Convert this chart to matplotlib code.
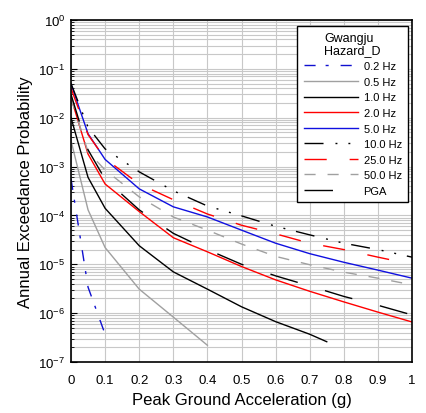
import matplotlib
matplotlib.use('Agg')
import matplotlib.pyplot as plt
from matplotlib.ticker import LogLocator, FixedLocator, NullFormatter

plt.rcParams['font.family'] = ['Liberation Sans', 'DejaVu Sans']
plt.rcParams['lines.scale_dashes'] = False

# peak ground acceleration (g)
pga = [0, 0.05, 0.1, 0.2, 0.3, 0.4, 0.5, 0.6, 0.7, 0.8, 0.9, 1.0]

# annual exceedance probability per spectral period
hz02 = [5.6e-4, 3.4e-6, 3.7e-7]
hz05 = [3.4e-3, 1.3e-4, 2.2e-5, 3.1e-6, 8.3e-7, 2.2e-7]
hz10 = [1.0e-2, 6.0e-4, 1.4e-4, 2.4e-5, 7.0e-6, 3.1e-6, 1.35e-6, 6.7e-7, 3.7e-7, 2.6e-7]
x_hz10 = [0, 0.05, 0.1, 0.2, 0.3, 0.4, 0.5, 0.6, 0.7, 0.75]
hz20 = [2.6e-2, 1.8e-3, 4.4e-4, 1.2e-4, 3.5e-5, 1.8e-5, 9.0e-6, 4.8e-6, 2.8e-6, 1.7e-6, 1.05e-6, 6.6e-7]
hz50 = [4.9e-2, 4.7e-3, 1.4e-3, 3.5e-4, 1.5e-4, 9.3e-5, 5.0e-5, 2.7e-5, 1.65e-5, 1.1e-5, 7.6e-6, 5.2e-6]
hz100 = [5.0e-2, 6.4e-3, 2.3e-3, 7.8e-4, 3.2e-4, 1.56e-4, 9.8e-5, 6.0e-5, 4.0e-5, 2.7e-5, 2.0e-5, 1.4e-5]
hz250 = [4.0e-2, 4.5e-3, 1.45e-3, 4.4e-4, 2.1e-4, 1.07e-4, 6.3e-5, 4.2e-5, 2.7e-5, 2.0e-5, 1.4e-5, 1.0e-5]
hz500 = [2.5e-2, 2.0e-3, 8.5e-4, 2.4e-4, 9.3e-5, 5.0e-5, 2.6e-5, 1.45e-5, 9.8e-6, 6.9e-6, 5.2e-6, 3.8e-6]
hzpga = [3.0e-2, 2.2e-3, 5.5e-4, 1.3e-4, 4.3e-5, 2.0e-5, 1.0e-5, 5.8e-6, 3.6e-6, 2.2e-6, 1.45e-6, 9.2e-7]

fg = plt.figure(figsize=(4.26, 4.14), dpi=100)
ax = fg.add_axes([71/426, 1-363/414, 341/426, 342/414])

lw = 1.0
ax.plot(pga[:3], hz02, color='#1010d0', lw=lw, dashes=(8, 7.2, 2.2, 8.6), label='0.2 Hz')
ax.plot(pga[:6], hz05, color='#a0a0a0', lw=lw, label='0.5 Hz')
ax.plot(x_hz10, hz10, color='black', lw=lw, label='1.0 Hz')
ax.plot(pga, hz20, color='red', lw=lw, label='2.0 Hz')
ax.plot(pga, hz50, color='#1010e0', lw=lw, label='5.0 Hz')
ax.plot(pga, hz100, color='black', lw=lw, dashes=(13.7, 8.6, 1.4, 7.9, 1.4, 7.9), label='10.0 Hz')
ax.plot(pga, hz250, color='red', lw=lw, dashes=(16, 16.5), label='25.0 Hz')
ax.plot(pga, hz500, color='#a0a0a0', lw=lw, dashes=(8, 8.6), label='50.0 Hz')
ax.plot(pga, hzpga, color='black', lw=lw, dashes=(20.5, 20.5), label='PGA')

ax.set_yscale('log')
ax.set_xlim(0, 1)
ax.set_ylim(1e-7, 1)
ax.xaxis.set_major_locator(FixedLocator([i/10 for i in range(11)]))
ax.set_xticklabels(['0'] + [f'{i/10:.1f}' for i in range(1, 10)] + ['1'])
ax.yaxis.set_major_locator(LogLocator(base=10, numticks=10))
ax.yaxis.set_minor_locator(LogLocator(base=10, subs=range(2, 10), numticks=100))
ax.yaxis.set_minor_formatter(NullFormatter())

ax.grid(True, which='major', color='#c8c8c8', lw=0.8)
ax.grid(True, which='minor', axis='y', color='#c8c8c8', lw=0.8)
ax.set_axisbelow(True)
ax.tick_params(axis='x', length=0, pad=9, labelsize=9.5)
ax.tick_params(axis='y', which='major', direction='in', length=4, pad=4, labelsize=9.5)
ax.tick_params(axis='y', which='minor', direction='in', length=2)
for s in ax.spines.values():
    s.set_linewidth(1.2)

ax.set_xlabel('Peak Ground Acceleration (g)', fontsize=12, labelpad=4)
ax.set_ylabel('Annual Exceedance Probability', fontsize=12, labelpad=4)

leg = ax.legend(loc='upper right', bbox_to_anchor=(0.988, 0.982), borderaxespad=0,
                title='Gwangju\nHazard_D', title_fontsize=9, fontsize=8,
                fancybox=False, framealpha=1, edgecolor='black',
                handlelength=4.9, handletextpad=0.5, labelspacing=0.5,
                borderpad=0.55)
leg.get_frame().set_linewidth(1.0)
leg.get_title().set_linespacing(0.95)

fg.savefig('out.png', dpi=100)
